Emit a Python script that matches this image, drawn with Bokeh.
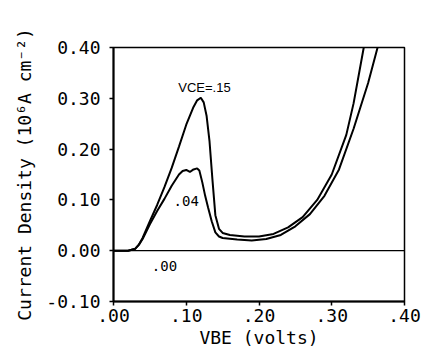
from bokeh.plotting import figure
from bokeh.models import Range1d, FixedTicker, ColumnDataSource
from bokeh.core.properties import value
from bokeh.embed import file_html
from bokeh.resources import INLINE

# VCE = .15 curve
v15_x = [0.00, 0.02, 0.03, 0.035, 0.04, 0.05, 0.06, 0.07, 0.08, 0.09, 0.10, 0.11, 0.115, 0.12,
         0.124, 0.128, 0.132, 0.136, 0.14, 0.145, 0.15, 0.16, 0.18, 0.20, 0.22, 0.24, 0.26,
         0.28, 0.30, 0.32, 0.33, 0.344]
v15_y = [0.000, 0.000, 0.004, 0.012, 0.025, 0.058, 0.090, 0.125, 0.163, 0.205, 0.248, 0.283, 0.296, 0.301,
         0.292, 0.265, 0.215, 0.140, 0.070, 0.043, 0.035, 0.031, 0.028, 0.028, 0.033, 0.046, 0.066,
         0.100, 0.150, 0.228, 0.290, 0.400]
# VCE = .04 curve
v04_x = [0.00, 0.02, 0.03, 0.035, 0.04, 0.05, 0.06, 0.07, 0.08, 0.09, 0.095, 0.10, 0.105, 0.11, 0.115,
         0.118, 0.122, 0.126, 0.13, 0.135, 0.14, 0.145, 0.15, 0.17, 0.19, 0.21, 0.23, 0.25, 0.27,
         0.29, 0.31, 0.33, 0.35, 0.363]
v04_y = [0.000, 0.000, 0.004, 0.012, 0.023, 0.052, 0.078, 0.102, 0.128, 0.150, 0.157, 0.159, 0.155, 0.160, 0.162,
         0.158, 0.135, 0.108, 0.085, 0.058, 0.036, 0.028, 0.025, 0.022, 0.020, 0.023, 0.031, 0.048, 0.072,
         0.108, 0.160, 0.240, 0.330, 0.400]
# VCE = .00 curve (zero current)
v00_x = [0.00, 0.40]
v00_y = [0.00, 0.00]

curve_labels = ["VCE=.15", ".04", ".00"]
label_x = [0.125, 0.100, 0.070]
label_y = [0.321, 0.098, -0.031]

xticks = [0.0, 0.1, 0.2, 0.3, 0.4]
xtick_labels = [".00", ".10", ".20", ".30", ".40"]
yticks = [-0.1, 0.0, 0.1, 0.2, 0.3, 0.4]
ytick_labels = ["-0.10", "0.00", "0.10", "0.20", "0.30", "0.40"]

MONO = "DejaVu Sans Mono"

p = figure(width=422, height=354, output_backend="svg", toolbar_location=None,
           x_range=Range1d(0, 0.40), y_range=Range1d(-0.10, 0.40),
           min_border_left=113, min_border_right=18, min_border_top=47, min_border_bottom=53)
p.background_fill_color = "white"
p.border_fill_color = "white"
p.outline_line_color = "black"
p.outline_line_width = 1.5
p.xgrid.visible = False
p.ygrid.visible = False

p.line(v00_x, v00_y, line_color="black", line_width=1.2)
p.line(v15_x, v15_y, line_color="black", line_width=2)
p.line(v04_x, v04_y, line_color="black", line_width=2)

src = ColumnDataSource(dict(x=label_x[1:], y=label_y[1:], t=curve_labels[1:]))
p.text(x="x", y="y", text="t", source=src, text_font=value(MONO), text_font_size="14px",
       text_align="center", text_baseline="middle", text_color="black")
p.text(x=[label_x[0]], y=[label_y[0]], text=[curve_labels[0]], text_font=value("Liberation Sans"),
       text_font_size="13px", text_align="center", text_baseline="middle", text_color="black")

for ax, ticks, labels in ((p.xaxis[0], xticks, xtick_labels), (p.yaxis[0], yticks, ytick_labels)):
    ax.ticker = FixedTicker(ticks=ticks)
    ax.major_label_overrides = {t: l for t, l in zip(ticks, labels)}
    ax.minor_tick_line_color = None
    ax.major_tick_in = 0
    ax.major_tick_out = 4
    ax.major_tick_line_width = 1.5
    ax.axis_line_width = 2
    ax.axis_line_color = "black"
    ax.major_label_text_font = MONO
    ax.major_label_text_font_size = "18px"
    ax.major_label_text_color = "black"
    ax.axis_label_text_font = MONO
    ax.axis_label_text_font_size = "18px"
    ax.axis_label_text_font_style = "normal"
    ax.axis_label_text_color = "black"

p.xaxis.axis_label = "VBE (volts)"
p.yaxis.axis_label = "Current Density (10\u2076A cm\u207b\u00b2)"
p.xaxis.major_label_standoff = 3
p.xaxis.axis_label_standoff = 2
p.yaxis.major_label_standoff = 9
p.yaxis.axis_label_standoff = 8

open("out.html", "w").write(file_html(p, INLINE))
